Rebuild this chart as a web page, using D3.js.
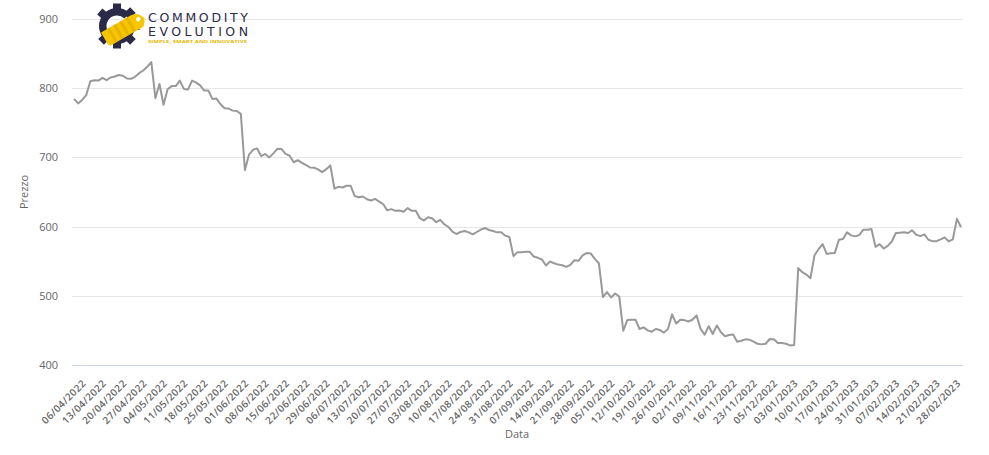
<!DOCTYPE html>
<html>
<head>
<meta charset="utf-8">
<script src="https://cdn.jsdelivr.net/npm/d3@7"></script>
<style>
  html, body { margin: 0; padding: 0; background: #fff; }
  svg { display: block; }
</style>
</head>
<body>
<svg id="chart" width="989" height="455"></svg>
<script>
const values = [
  784.5, 778, 783, 790, 810, 811.6, 811, 815, 811.6, 815.5,
  817, 819, 818, 814, 813.5, 816.4, 821.7, 825.6, 831, 837.7,
  785.5, 806, 776, 798.5, 803, 803, 811, 799, 798, 811,
  808, 804, 796.6, 796.6, 784.5, 785, 776.8, 771, 770.5, 767.6,
  767, 763, 681.7, 704, 711, 713, 702, 705, 700, 705.8,
  712.6, 712, 705, 702.4, 693, 696, 692, 689, 685.5, 685,
  682.6, 678.8, 683, 688.4, 655, 657.5, 656.5, 659, 659, 644,
  642.5, 643.5, 639.5, 637.7, 640, 636.2, 632.3, 623.5, 625.2, 622.8,
  623.3, 621.4, 626.7, 622.8, 622.8, 612.1, 608.7, 613.6, 612.1, 606.3,
  609.7, 603.4, 599.5, 592.7, 589.3, 592.2, 593.7, 591.7, 588.8, 592.2,
  595.6, 598, 595.1, 593.7, 591.7, 591.7, 586.9, 585, 557.3, 563.1,
  563.1, 563.6, 563.6, 556.8, 554.9, 552.4, 543.7, 549.5, 547.1, 545.1,
  544.2, 541.7, 544.7, 551.5, 550.5, 558.3, 561.7, 561.2, 553.4, 547.1,
  498.1, 505.3, 497.6, 503.4, 499, 449.5, 465, 465.5, 465.5, 452,
  454.4, 450, 448, 452, 450.5, 446.8, 452.2, 473.2, 460, 465.4,
  464.9, 462.9, 465.4, 471.7, 452.2, 443.9, 456.1, 444.9, 457.1, 447.3,
  441.5, 443.4, 443.9, 433.7, 435.1, 437.1, 436.6, 433.7, 430.7, 429.8,
  430.7, 437.6, 437.1, 431.7, 431.7, 430.7, 428.3, 428.8, 540, 534.1,
  530.7, 525.4, 558.5, 567.3, 574.6, 560.5, 561.5, 562, 581, 582,
  591.7, 587.3, 585.9, 587.8, 595.6, 595.6, 596.6, 570.7, 574.6, 568.3,
  572.2, 578.5, 590.7, 591.2, 591.7, 590.7, 594.6, 588.3, 586.3, 588.8,
  581, 579, 579, 581.5, 584.4, 578.5, 581.5, 611.2, 599.5
];
const tickLabels = [
  "06/04/2022","13/04/2022","20/04/2022","27/04/2022","04/05/2022","11/05/2022",
  "18/05/2022","25/05/2022","01/06/2022","08/06/2022","15/06/2022","22/06/2022",
  "29/06/2022","06/07/2022","13/07/2022","20/07/2022","27/07/2022","03/08/2022",
  "10/08/2022","17/08/2022","24/08/2022","31/08/2022","07/09/2022","14/09/2022",
  "21/09/2022","28/09/2022","05/10/2022","12/10/2022","19/10/2022","26/10/2022",
  "02/11/2022","09/11/2022","16/11/2022","23/11/2022","05/12/2022","03/01/2023",
  "10/01/2023","17/01/2023","24/01/2023","31/01/2023","07/02/2023","14/02/2023",
  "21/02/2023","28/02/2023"
];
const yTicks = [400, 500, 600, 700, 800, 900];
const labelStep = 5;
const yTitle = "Prezzo";
const xTitle = "Data";

(function () {
const svg = d3.select("#chart");
const pLeft = 72, pRight = 963, pTop = 19, pBottom = 365;
const font = "'Open Sans', 'Liberation Sans', sans-serif";

const idx = d3.range(values.length);
const x = d3.scalePoint().domain(idx).range([pLeft, pRight]).padding(0.5);
const y = d3.scaleLinear().domain([400, 900]).range([pBottom, pTop]);

// grid
svg.append("g").selectAll("line").data(yTicks.filter(t => t !== 400)).join("line")
  .attr("x1", pLeft).attr("x2", pRight)
  .attr("y1", d => Math.round(y(d)) + 0.5).attr("y2", d => Math.round(y(d)) + 0.5)
  .attr("stroke", "#e6e6e6").attr("stroke-width", 1);

// y axis labels
const yAxis = d3.axisLeft(y).tickValues(yTicks).tickSize(0).tickPadding(14);
const ya = svg.append("g").attr("transform", `translate(${pLeft},0)`).call(yAxis);
ya.select(".domain").remove();
ya.selectAll("text").attr("fill", "#666").style("font-family", font).style("font-size", "11px");

// x axis line
svg.append("line").attr("x1", pLeft).attr("x2", pRight)
  .attr("y1", pBottom + 0.5).attr("y2", pBottom + 0.5)
  .attr("stroke", "#ccd6eb").attr("stroke-width", 1);

// x labels
const tickIdx = tickLabels.map((_, i) => i * labelStep);
const xAxis = d3.axisBottom(x).tickValues(tickIdx).tickSize(0)
  .tickFormat(d => tickLabels[d / labelStep]);
const xa = svg.append("g").attr("transform", `translate(0,${pBottom})`).call(xAxis);
xa.select(".domain").remove();
xa.selectAll("text")
  .attr("fill", "#666")
  .style("font-family", font).style("font-size", "10px").style("font-weight", "600")
  .style("letter-spacing", "0.4px")
  .attr("text-anchor", "end")
  .attr("dy", null).attr("y", null)
  .attr("transform", "translate(12,19) rotate(-45)");

// line
const line = d3.line().x((d, i) => x(i)).y(d => y(d));
svg.append("path").datum(values)
  .attr("fill", "none").attr("stroke", "#999999").attr("stroke-width", 2)
  .attr("stroke-linejoin", "round").attr("d", line);

// axis titles
svg.append("text").text(yTitle)
  .attr("transform", `translate(28,${(pTop + pBottom) / 2}) rotate(-90)`)
  .attr("text-anchor", "middle").attr("fill", "#666")
  .style("font-family", font).style("font-size", "11px");
svg.append("text").text(xTitle)
  .attr("x", 517).attr("y", 438)
  .attr("text-anchor", "middle").attr("fill", "#666")
  .style("font-family", font).style("font-size", "11px");

// logo
const logo = svg.append("g");
const cx = 117, cy = 26;
const navy = "#2a2a48";
[90, 135, 180, 225, 270, 315, 40].forEach(a => {
  logo.append("rect")
    .attr("x", -4).attr("y", -22.5).attr("width", 8).attr("height", 9)
    .attr("fill", navy)
    .attr("transform", `translate(${cx},${cy}) rotate(${a - 90})`);
});
const arc = d3.arc().innerRadius(10.5).outerRadius(18)
  .startAngle(Math.PI * 0.6).endAngle(Math.PI * 2.25);
logo.append("path").attr("d", arc()).attr("fill", navy)
  .attr("transform", `translate(${cx},${cy})`);
const tag = logo.append("g").attr("transform", "translate(107,43) rotate(-30)");
tag.append("path")
  .attr("d", "M0,-12 L34,-12 Q40,-12 43,-7 L45,-3 Q43,1 40,4 L3,4 Q0,4 0,1 Z")
  .attr("fill", "#f6c700");
[7, 14, 21, 28].forEach(sx => {
  tag.append("rect").attr("x", sx).attr("y", -12).attr("width", 3.2)
    .attr("height", 16).attr("fill", "#e2a800").attr("opacity", 0.6);
});
tag.append("circle").attr("cx", 39).attr("cy", -5).attr("r", 2.2).attr("fill", "#fff");
logo.append("text").text("COMMODITY")
  .attr("x", 148).attr("y", 22).attr("textLength", 100).attr("lengthAdjust", "spacing")
  .attr("fill", navy).style("font-family", "'DejaVu Sans', sans-serif")
  .style("font-size", "12.5px").style("font-weight", "500");
logo.append("text").text("EVOLUTION")
  .attr("x", 148).attr("y", 35.5).attr("textLength", 100).attr("lengthAdjust", "spacing")
  .attr("fill", navy).style("font-family", "'DejaVu Sans', sans-serif")
  .style("font-size", "12.5px").style("font-weight", "500");
logo.append("text").text("SIMPLE, SMART AND INNOVATIVE")
  .attr("x", 148).attr("y", 42.5).attr("textLength", 99).attr("lengthAdjust", "spacingAndGlyphs")
  .attr("fill", "#e8b800").style("font-family", font)
  .style("font-size", "3.6px").style("font-weight", "700");
})();
</script>
</body>
</html>
